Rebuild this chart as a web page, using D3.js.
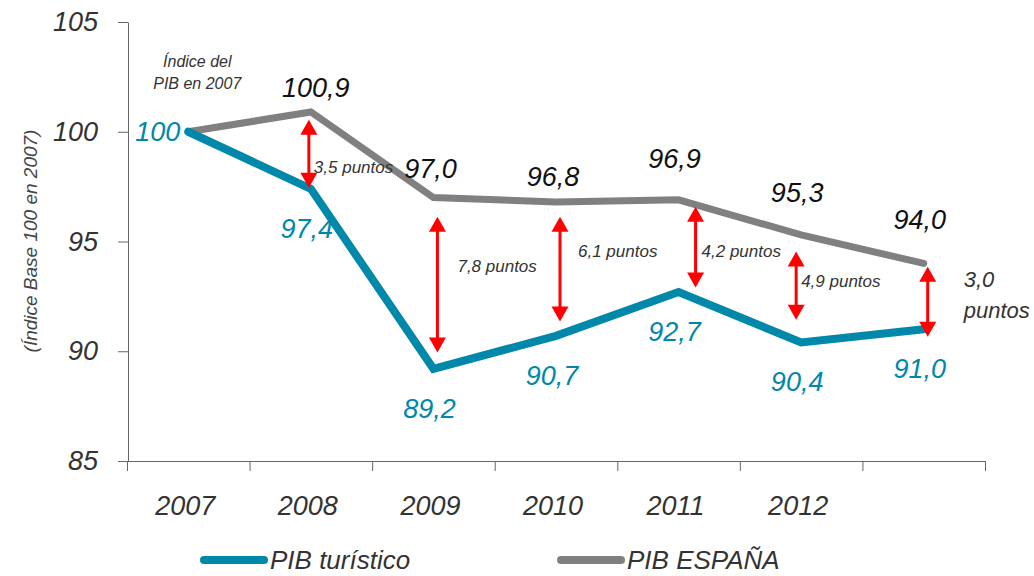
<!DOCTYPE html>
<html>
<head>
<meta charset="utf-8">
<script src="https://cdn.jsdelivr.net/npm/d3@7"></script>
<style>
  body { margin: 0; background: #fff; }
  svg text { font-family: "Liberation Sans", Arial, Helvetica, sans-serif; font-style: italic; }
</style>
</head>
<body>
<script>
// data
var years = ["2007", "2008", "2009", "2010", "2011", "2012", "2013"];
var yearLabels = ["2007", "2008", "2009", "2010", "2011", "2012", ""];
var pibTuristico = [100, 97.4, 89.2, 90.7, 92.7, 90.4, 91.0];
var pibEspana = [100, 100.9, 97.0, 96.8, 96.9, 95.3, 94.0];
var yTicks = [85, 90, 95, 100, 105];

// gap arrows between both series
var gapYears = ["2008", "2009", "2010", "2011", "2012", "2013"];
var gapTop = [100.55, 96.13, 96.13, 96.58, 94.54, 93.85];
var gapBottom = [97.45, 89.94, 91.35, 92.9, 91.44, 90.66];
var gapText = ["3,5 puntos", "7,8 puntos", "6,1 puntos", "4,2 puntos", "4,9 puntos", "3,0 puntos"];

// layout tweaks (pixels)
var espLabelDy = [null, -15, -20, -16, -32, -33, -34];
var espLabelDx = [0, 5, -3, -3, -4, -4, -4];
var arrowDx = [-2, 4, 4, 17, -5, 4];
var gapLabelDx = [5, 20, 18, 6, 5, 36];
var gapLabelY = [173, 272, 257, 257, 287, 287];

var svgWidth = 1034;
var svgHeight = 576;

var teal = "#0088aa";
var grey = "#808080";
var red = "#ff0000";
var ink = "#333333";

var svg = d3.select("body")
  .append("svg")
  .attr("width", svgWidth)
  .attr("height", svgHeight);

var xBand = d3.scaleBand()
  .domain(years)
  .range([127, 985]);
var xc = function (yr) { return xBand(yr) + xBand.bandwidth() / 2; };

var y = d3.scaleLinear()
  .domain([85, 105])
  .range([461, 22]);

var fmt = d3.formatLocale({ decimal: ",", thousands: ".", grouping: [3], currency: ["", "€"] }).format(".1f");

// y axis
var yAxis = svg.append("g")
  .attr("transform", "translate(128,0)")
  .call(d3.axisLeft(y).tickValues(yTicks).tickSize(10).tickSizeOuter(0).tickPadding(20));
yAxis.selectAll("path, line").attr("stroke", "#666");
yAxis.selectAll("text")
  .attr("font-size", "27px")
  .attr("fill", ink)
  .style("font-family", '"Liberation Sans", Arial, sans-serif');

// x axis: tick marks at band edges
var edge = d3.scaleLinear().domain([0, years.length]).range(xBand.range());
var xEdges = svg.append("g")
  .attr("transform", "translate(0," + y(85) + ")")
  .call(d3.axisBottom(edge).tickValues(d3.range(years.length + 1)).tickFormat("").tickSize(10).tickSizeOuter(0));
xEdges.selectAll("path, line").attr("stroke", "#666");

// x axis: year labels at band centres
var xLabels = svg.append("g")
  .attr("transform", "translate(0," + y(85) + ")")
  .call(d3.axisBottom(xBand).tickSize(0).tickPadding(35).tickFormat(function (d, i) { return yearLabels[i]; }));
xLabels.select(".domain").remove();
xLabels.selectAll("text")
  .attr("font-size", "27px")
  .attr("fill", ink)
  .attr("dx", -3)
  .style("font-family", '"Liberation Sans", Arial, sans-serif');

// y axis title
svg.append("text")
  .attr("transform", "translate(37,241) rotate(-90)")
  .attr("text-anchor", "middle")
  .attr("font-size", "19px")
  .attr("fill", "#444")
  .text("(Índice Base 100 en 2007)");

// lines
var line = d3.line()
  .x(function (d, i) { return xc(years[i]); })
  .y(function (d) { return y(d); });

svg.append("path")
  .datum(pibEspana)
  .attr("d", line)
  .attr("fill", "none")
  .attr("stroke", grey)
  .attr("stroke-width", 7)
  .attr("stroke-linecap", "round")
  .attr("stroke-linejoin", "miter");

svg.append("path")
  .datum(pibTuristico)
  .attr("d", line)
  .attr("fill", "none")
  .attr("stroke", teal)
  .attr("stroke-width", 8)
  .attr("stroke-linecap", "round")
  .attr("stroke-linejoin", "miter");

// gap arrows
var headH = 15, headW = 8.5;
var arrows = svg.append("g");
gapYears.forEach(function (yr, i) {
  var ax = xc(yr) + arrowDx[i];
  var t = y(gapTop[i]), b = y(gapBottom[i]);
  arrows.append("line")
    .attr("x1", ax).attr("x2", ax)
    .attr("y1", t + headH - 1).attr("y2", b - headH + 1)
    .attr("stroke", red).attr("stroke-width", 3);
  arrows.append("path")
    .attr("d", "M" + ax + "," + t + "L" + (ax + headW) + "," + (t + headH) + "L" + (ax - headW) + "," + (t + headH) + "Z")
    .attr("fill", red);
  arrows.append("path")
    .attr("d", "M" + ax + "," + b + "L" + (ax + headW) + "," + (b - headH) + "L" + (ax - headW) + "," + (b - headH) + "Z")
    .attr("fill", red);

  var last = i === gapYears.length - 1;
  var txt = arrows.append("text")
    .attr("x", ax + gapLabelDx[i])
    .attr("y", gapLabelY[i])
    .attr("font-size", last ? "22px" : "17px")
    .attr("fill", ink);
  if (last) {
    var parts = gapText[i].split(" ");
    txt.append("tspan").attr("x", ax + gapLabelDx[i]).text(parts[0]);
    txt.append("tspan").attr("x", ax + gapLabelDx[i]).attr("dy", 31).text(parts[1]);
  } else {
    txt.text(gapText[i]);
  }
});

// value labels
var espIdx = d3.range(pibEspana.length).filter(function (i) { return espLabelDy[i] !== null; });
svg.append("g").selectAll("text")
  .data(espIdx)
  .enter()
  .append("text")
  .attr("x", function (i) { return xc(years[i]) + espLabelDx[i]; })
  .attr("y", function (i) { return y(pibEspana[i]) + espLabelDy[i]; })
  .attr("text-anchor", "middle")
  .attr("font-size", "27px")
  .attr("fill", "#111")
  .text(function (i) { return fmt(pibEspana[i]); });

svg.append("g").selectAll("text")
  .data(pibTuristico)
  .enter()
  .append("text")
  .attr("x", function (d, i) { return i === 0 ? xc(years[i]) - 8 : xc(years[i]) - 4; })
  .attr("y", function (d, i) { return i === 0 ? y(d) + 9 : y(d) + 49; })
  .attr("text-anchor", function (d, i) { return i === 0 ? "end" : "middle"; })
  .attr("font-size", "27px")
  .attr("fill", teal)
  .text(function (d, i) { return i === 0 ? "100" : fmt(d); });

// note above 2007
var note = svg.append("text")
  .attr("text-anchor", "middle")
  .attr("font-size", "16px")
  .attr("fill", ink);
note.append("tspan").attr("x", xc("2007") + 9).attr("y", 67).text("Índice del");
note.append("tspan").attr("x", xc("2007") + 9).attr("y", 89).text("PIB en 2007");

// legend
var legendItems = [
  { name: "PIB turístico", color: teal, x: 200 },
  { name: "PIB ESPAÑA", color: grey, x: 557 }
];
var legend = svg.append("g");
legendItems.forEach(function (d) {
  legend.append("line")
    .attr("x1", d.x + 4).attr("x2", d.x + 64)
    .attr("y1", 560).attr("y2", 560)
    .attr("stroke", d.color)
    .attr("stroke-width", 8)
    .attr("stroke-linecap", "round");
  legend.append("text")
    .attr("x", d.x + 70)
    .attr("y", 569)
    .attr("font-size", "26px")
    .attr("fill", ink)
    .text(d.name);
});
</script>
</body>
</html>
